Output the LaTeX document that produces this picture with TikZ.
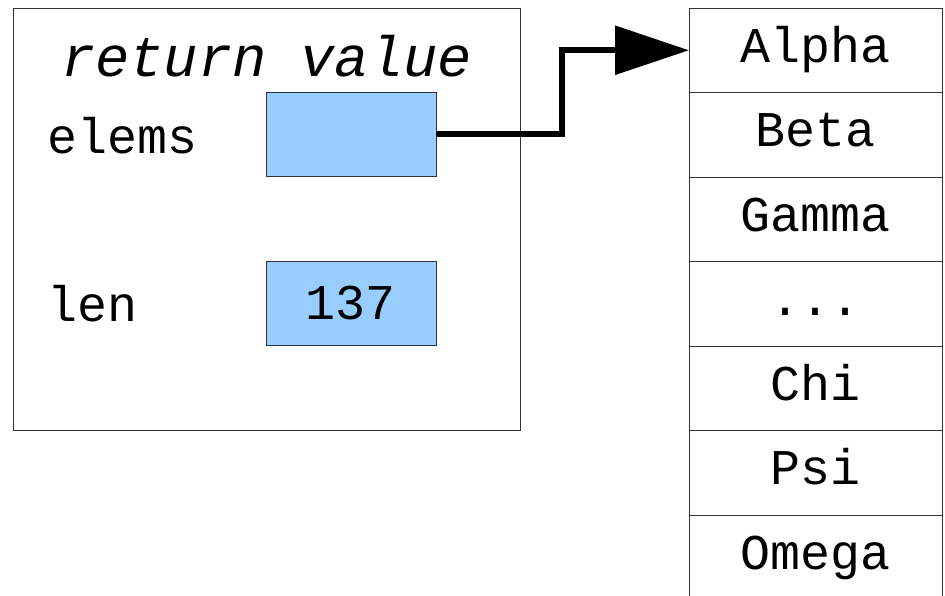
\documentclass[tikz,border=0pt]{standalone}
\usepackage{fontspec}
\setmonofont{Liberation Mono}
\usetikzlibrary{arrows.meta,positioning}
\definecolor{slotblue}{HTML}{99CCFF}
\definecolor{edgegray}{HTML}{333333}
\tikzset{
  recordbox/.style={
    draw=edgegray,
    line width=1pt,
    minimum width=507pt,
    minimum height=422pt,
    inner sep=0pt,
    outer sep=0pt
  },
  slot/.style={
    draw=edgegray,
    fill=slotblue,
    line width=1pt,
    minimum width=170pt,
    minimum height=84pt,
    inner sep=0pt,
    outer sep=0pt,
    font=\fontsize{50pt}{60pt}\selectfont\ttfamily
  },
  fieldname/.style={
    anchor=west,
    inner sep=0pt,
    font=\fontsize{50pt}{60pt}\selectfont\ttfamily
  },
  cell/.style={
    draw=edgegray,
    line width=1pt,
    minimum width=253pt,
    minimum height=84.5pt,
    inner sep=0pt,
    outer sep=0pt,
    text height=34pt,
    text depth=10pt,
    font=\fontsize{50pt}{60pt}\selectfont\ttfamily
  },
  pointer/.style={
    -{Triangle[length=74pt,width=48pt]},
    line width=6pt,
    line join=miter
  }
}
\begin{document}
\begin{tikzpicture}[x=1pt,y=-1pt,node distance=0pt]
\useasboundingbox (0,0) rectangle (945,595);
% the returned record
\node[recordbox] (record) at (266.5,219) {};
\node[font=\fontsize{57pt}{68pt}\selectfont\ttfamily\itshape] (title) at (266.5,56) {return value};
\node[fieldname] (elemsname) at (47,136) {elems};
\node[fieldname] (lenname) at (47,304) {len};
\node[slot] (elemsslot) at (351,134) {};
\node[slot] (lenslot) at (351,303) {137};
% the array
\node[cell] (alpha) at (815.5,50.25) {Alpha};
\node[cell, below=of alpha] (beta) {Beta};
\node[cell, below=of beta] (gamma) {Gamma};
\node[cell, below=of gamma] (dots) {...};
\node[cell, below=of dots] (chi) {Chi};
\node[cell, below=of chi] (psi) {Psi};
\node[cell, below=of psi] (omega) {Omega};
\draw[pointer] (elemsslot.east) -- ++(126,0) |- (alpha.west);
\end{tikzpicture}
\end{document}
